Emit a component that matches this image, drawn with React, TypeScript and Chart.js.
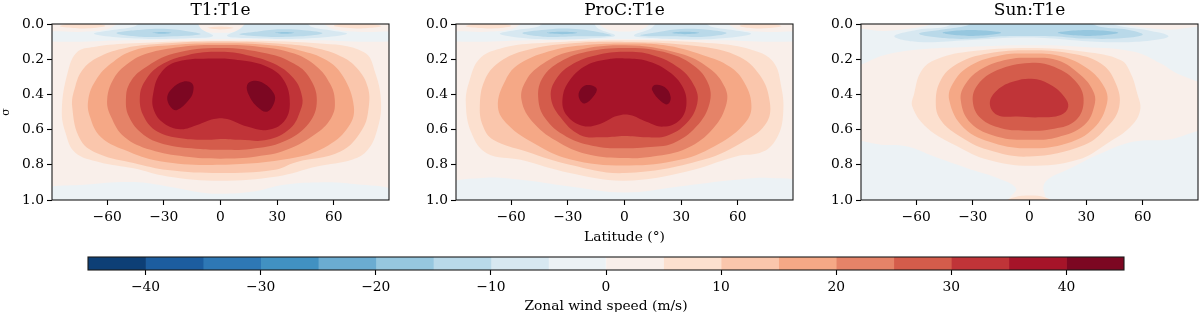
import React, { useEffect, useRef } from "react";
import { Chart, registerables } from "chart.js";

Chart.register(...registerables);

type Pt = [number, number];

// Contour levels (m/s) and the RdBu_r colour of each band [level, level + 5)
const levels = [-45, -40, -35, -30, -25, -20, -15, -10, -5, 0, 5, 10, 15, 20, 25, 30, 35, 40, 45];
const bandColors = ["#0d3f76", "#1c5d9f", "#2e78b5", "#4191c2", "#6bacd1", "#96c7df", "#b9d9e9", "#d7e8f1", "#ecf2f5", "#f9efea", "#fce0cf", "#fac6ac", "#f5a886", "#e58368", "#d45c4b", "#c03438", "#a61429", "#7c0722"];
const latTicks = [-60, -30, 0, 30, 60];
const sigmaTicks = [0, 0.2, 0.4, 0.6, 0.8, 1];
const cbarTicks = [-40, -30, -20, -10, 0, 10, 20, 30, 40];
const titles = ["T1:T1e", "ProC:T1e", "Sun:T1e"];

const fullDomain: Pt[] = [[-130, -0.4], [130, -0.4], [130, 1.4], [-130, 1.4]];

// ---- T1:T1e contours, [latitude, sigma] ----
const t1Top0: Pt[] = [[-95, 0.05], [-75, 0.045], [-60, 0.03], [-50, -0.02], [50, -0.02], [60, 0.03], [75, 0.045], [95, 0.05], [95, 0.095], [50, 0.092], [0, 0.085], [-50, 0.092], [-95, 0.095]];
const t1Bottom0: Pt[] = [[-95, 0.945], [-72, 0.913], [-46, 0.898], [-28, 0.923], [-10.6, 0.957], [0, 0.964], [17.6, 0.951], [33.5, 0.913], [51, 0.9], [69, 0.908], [95, 0.955], [95, 1.05], [-95, 1.05]];
const t1Center: Pt[] = [[-15, -0.02], [-12, 0.025], [-6, 0.047], [0, 0.05], [6, 0.047], [12, 0.025], [15, -0.02]];
const t1CenterLens: Pt[] = [[-7, 0.022], [0, 0.014], [7, 0.022], [0, 0.031]];
const t1CornerL: Pt[] = [[-85, 0.012], [-73, -0.01], [-61, 0.01], [-70, 0.024], [-78, 0.023]];
const t1CornerR: Pt[] = [[60, 0.01], [72, -0.01], [85, 0.012], [78, 0.023], [70, 0.024]];
const t1M5L: Pt[] = [[-67, 0.055], [-58, 0.035], [-46, 0.015], [-40, -0.02], [-14, -0.02], [-10, 0.03], [-4, 0.068], [-15, 0.08], [-35, 0.085], [-55, 0.075]];
const t1M5R: Pt[] = [[67, 0.055], [58, 0.035], [48, 0.015], [44, -0.02], [16, -0.02], [10, 0.03], [3.5, 0.068], [15, 0.08], [35, 0.085], [55, 0.075]];
const t1M10L: Pt[] = [[-55, 0.052], [-42, 0.033], [-28, 0.028], [-15, 0.045], [-10.6, 0.058], [-25, 0.07], [-42, 0.072]];
const t1M10R: Pt[] = [[10, 0.058], [20, 0.042], [32, 0.03], [44, 0.035], [54, 0.052], [42, 0.07], [25, 0.072]];
const t1M15L: Pt[] = [[-36, 0.05], [-31, 0.045], [-26, 0.05], [-31, 0.056]];
const t1M15R: Pt[] = [[29, 0.05], [34, 0.045], [39, 0.05], [34, 0.056]];
const t1P5: Pt[] = [[-84, 0.49], [-81, 0.28], [-76, 0.16], [-67, 0.13], [-46, 0.11], [0, 0.095], [51, 0.11], [76, 0.16], [82, 0.28], [85, 0.45], [83, 0.6], [78, 0.715], [70, 0.77], [51, 0.81], [30, 0.866], [0, 0.89], [-28, 0.866], [-46, 0.82], [-64, 0.785], [-77, 0.73], [-82, 0.62]];
const t1P10: Pt[] = [[-78.5, 0.47], [-77, 0.36], [-73, 0.26], [-65, 0.19], [-52, 0.14], [-35, 0.115], [0, 0.1], [35, 0.115], [52, 0.14], [65, 0.19], [73, 0.26], [78, 0.36], [78.5, 0.47], [75, 0.6], [63.5, 0.725], [40, 0.785], [28, 0.83], [0, 0.847], [-28, 0.83], [-46, 0.79], [-64, 0.74], [-74, 0.66]];
const t1P15: Pt[] = [[-70, 0.43], [-69, 0.53], [-63.5, 0.64], [-51, 0.715], [-32, 0.78], [0, 0.8], [39, 0.76], [57, 0.69], [68, 0.58], [70.6, 0.47], [65, 0.3], [56, 0.205], [42, 0.15], [25, 0.12], [0, 0.11], [-25, 0.12], [-46, 0.15], [-58, 0.225], [-66, 0.32]];
const t1P20: Pt[] = [[-60, 0.43], [-58, 0.525], [-51, 0.64], [-37, 0.715], [-19, 0.753], [0, 0.765], [19, 0.753], [35, 0.715], [51, 0.62], [59, 0.525], [60.5, 0.43], [58, 0.34], [51, 0.243], [39, 0.168], [21, 0.13], [0, 0.12], [-21, 0.13], [-39, 0.168], [-49, 0.225], [-56.5, 0.31]];
const t1P25: Pt[] = [[-50, 0.413], [-48.5, 0.526], [-40.6, 0.63], [-28, 0.687], [-10.6, 0.71], [0, 0.715], [16, 0.71], [33.5, 0.668], [46.8, 0.564], [51, 0.432], [46.8, 0.3], [38.8, 0.225], [24.7, 0.168], [0, 0.136], [-24.7, 0.168], [-40.6, 0.253], [-47.6, 0.328]];
const t1P30: Pt[] = [[-42.7, 0.413], [-40.6, 0.526], [-33.5, 0.611], [-21, 0.649], [-7, 0.658], [0, 0.653], [10.6, 0.658], [24.7, 0.658], [37, 0.592], [42.4, 0.489], [43.2, 0.413], [38.8, 0.31], [28.2, 0.225], [14, 0.177], [0, 0.158], [-17.6, 0.177], [-31.8, 0.234], [-39.7, 0.319]];
const t1P35: Pt[] = [[-3.5, 0.196], [-23, 0.215], [-31.8, 0.281], [-35.6, 0.394], [-35.3, 0.489], [-30, 0.564], [-21.2, 0.598], [-12.4, 0.574], [-3.5, 0.54], [3.5, 0.54], [14.1, 0.583], [24.7, 0.602], [33.5, 0.555], [36.7, 0.451], [33.5, 0.319], [24.7, 0.243], [10.6, 0.206]];
const t1P40L: Pt[] = [[-19.8, 0.328], [-15, 0.338], [-14.5, 0.385], [-16.8, 0.432], [-23, 0.489], [-26.5, 0.47], [-28.2, 0.415], [-25.6, 0.366]];
const t1P40R: Pt[] = [[17.6, 0.323], [23, 0.338], [28.2, 0.394], [28.6, 0.442], [24.7, 0.498], [19.4, 0.47], [15, 0.404], [14.1, 0.347]];

// ---- ProC:T1e contours ----
const prTop0: Pt[] = [[-95, 0.05], [-75, 0.045], [-60, 0.03], [-50, -0.02], [50, -0.02], [60, 0.03], [75, 0.045], [95, 0.05], [95, 0.095], [50, 0.092], [0, 0.085], [-50, 0.092], [-95, 0.095]];
const prBottom0: Pt[] = [[-95, 0.92], [-75, 0.875], [-55, 0.885], [-29, 0.923], [0, 0.957], [29, 0.923], [59, 0.885], [77, 0.875], [95, 0.91], [95, 1.05], [-95, 1.05]];
const prCenter: Pt[] = [[-14, -0.02], [-11, 0.022], [-5, 0.04], [0, 0.043], [5, 0.04], [11, 0.022], [14, -0.02]];
const prCornerL: Pt[] = [[-84, 0.012], [-72, -0.01], [-60, 0.01], [-68, 0.024], [-77, 0.023]];
const prCornerR: Pt[] = [[61, 0.01], [72, -0.01], [83, 0.012], [76, 0.023], [68, 0.024]];
const prM5L: Pt[] = [[-66, 0.055], [-58, 0.035], [-46, 0.015], [-40, -0.02], [-18, -0.02], [-14, 0.025], [-5, 0.065], [-15, 0.08], [-35, 0.088], [-55, 0.078]];
const prM5R: Pt[] = [[67, 0.055], [58, 0.035], [46, 0.015], [40, -0.02], [19, -0.02], [14, 0.025], [5, 0.065], [15, 0.08], [35, 0.088], [55, 0.078]];
const prM10L: Pt[] = [[-54, 0.052], [-42, 0.033], [-28, 0.027], [-14, 0.045], [-7, 0.065], [-25, 0.07], [-42, 0.072]];
const prM10R: Pt[] = [[8.5, 0.065], [18, 0.045], [30, 0.028], [44, 0.033], [54, 0.052], [42, 0.072], [25, 0.07]];
const prM15L: Pt[] = [[-41, 0.05], [-33, 0.044], [-25, 0.05], [-33, 0.058]];
const prM15R: Pt[] = [[25, 0.05], [32, 0.044], [39.5, 0.05], [32, 0.058]];
const prP5: Pt[] = [[-84, 0.45], [-82, 0.319], [-76.6, 0.196], [-66, 0.14], [-46.6, 0.11], [0, 0.092], [47, 0.11], [68, 0.149], [78.7, 0.215], [83, 0.357], [84, 0.508], [81, 0.64], [73.4, 0.725], [59, 0.753], [33, 0.838], [0, 0.89], [-29, 0.847], [-55, 0.772], [-73, 0.734], [-81, 0.62]];
const prP10: Pt[] = [[-76.6, 0.47], [-74, 0.319], [-66, 0.215], [-52, 0.149], [-29, 0.111], [0, 0.102], [33, 0.12], [59, 0.177], [71.6, 0.29], [77, 0.45], [75, 0.564], [64.6, 0.658], [41.6, 0.772], [0, 0.847], [-29, 0.8], [-52, 0.725], [-69.5, 0.658], [-74.8, 0.583]];
const prP15: Pt[] = [[-67, 0.47], [-63, 0.319], [-55.4, 0.225], [-37.8, 0.149], [-20, 0.12], [0, 0.111], [20.5, 0.12], [41.6, 0.177], [55.8, 0.243], [63.7, 0.338], [67.2, 0.47], [63.7, 0.564], [50.5, 0.677], [29.3, 0.772], [0, 0.804], [-29, 0.768], [-48, 0.677], [-61.6, 0.574]];
const prP20: Pt[] = [[-54.5, 0.432], [-52, 0.319], [-43, 0.225], [-29, 0.158], [0, 0.121], [29.3, 0.168], [45, 0.253], [53, 0.357], [54, 0.451], [47, 0.592], [33, 0.706], [15, 0.753], [0, 0.762], [-18.4, 0.743], [-34, 0.677], [-48, 0.564]];
const prP25: Pt[] = [[-45.7, 0.413], [-43, 0.3], [-34, 0.215], [-20, 0.158], [0, 0.136], [20.5, 0.158], [36.4, 0.234], [44.3, 0.338], [45, 0.451], [38, 0.583], [25.8, 0.677], [11.6, 0.7], [0, 0.706], [-14.8, 0.696], [-30.7, 0.64], [-42, 0.536]];
const prP30: Pt[] = [[-39, 0.413], [-36, 0.31], [-27, 0.225], [-14.8, 0.177], [0, 0.158], [15, 0.177], [29.3, 0.253], [37.2, 0.357], [38.5, 0.451], [32.8, 0.564], [22.2, 0.636], [11.6, 0.643], [0, 0.636], [-11.3, 0.643], [-23.6, 0.63], [-34.2, 0.526]];
const prP35: Pt[] = [[-8.6, 0.2], [-20, 0.234], [-29, 0.319], [-32.8, 0.423], [-30.7, 0.517], [-21.9, 0.579], [-13, 0.568], [-4.2, 0.523], [2.8, 0.517], [11.6, 0.555], [20.5, 0.583], [29.3, 0.545], [32.8, 0.451], [30.2, 0.347], [22.2, 0.262], [11.6, 0.209], [1, 0.196]];
const prP40L: Pt[] = [[-20, 0.347], [-14.8, 0.366], [-16.6, 0.413], [-21, 0.451], [-23.6, 0.432], [-24, 0.385]];
const prP40R: Pt[] = [[16, 0.347], [21.4, 0.36], [24.4, 0.413], [23, 0.455], [19.6, 0.442], [14.6, 0.375]];

// ---- Sun:T1e contours ----
const suTop0: Pt[] = [[-95, 0.045], [-77, 0.04], [-59, 0.02], [-42, -0.02], [40, -0.02], [55, 0.013], [73, 0.032], [95, 0.04], [95, 0.32], [80, 0.29], [69.5, 0.225], [55.4, 0.158], [29, 0.13], [0, 0.121], [-33, 0.13], [-59, 0.145], [-77, 0.177], [-95, 0.235]];
const suBottomL: Pt[] = [[-95, 0.687], [-77, 0.687], [-64.6, 0.696], [-50.5, 0.753], [-33, 0.819], [-17, 0.875], [-7.2, 0.932], [-10, 0.98], [-15, 1.03], [-95, 1.05]];
const suBottomR: Pt[] = [[13, 1.03], [7.4, 0.942], [9.5, 0.885], [20, 0.828], [38, 0.734], [55.4, 0.668], [73, 0.658], [95, 0.625], [95, 1.05]];
const suBottomLens: Pt[] = [[-15, 1.02], [-8, 0.985], [0, 0.975], [8, 0.985], [13, 1.02]];
const suM5: Pt[] = [[-71.6, 0.07], [-59, 0.032], [-45, 0.017], [-36, -0.02], [38, -0.02], [48, 0.013], [62.5, 0.036], [73.6, 0.07], [62.5, 0.096], [38, 0.102], [0, 0.077], [-33, 0.092], [-59, 0.102]];
const suM10: Pt[] = [[-58.4, 0.055], [-45, 0.03], [-33, 0.008], [-27.5, -0.02], [27, -0.02], [38, 0.017], [52, 0.032], [60, 0.06], [50, 0.08], [29, 0.083], [13, 0.07], [0, 0.068], [-15, 0.07], [-29, 0.083], [-45, 0.08]];
const suM15L: Pt[] = [[-46, 0.05], [-31, 0.034], [-15, 0.05], [-31, 0.068]];
const suM15R: Pt[] = [[15, 0.05], [31, 0.034], [47, 0.05], [31, 0.068]];
const suP5: Pt[] = [[-62, 0.47], [-61, 0.394], [-57.5, 0.272], [-50.5, 0.206], [-33, 0.158], [0, 0.136], [29, 0.158], [48.4, 0.206], [53.6, 0.281], [57, 0.394], [58.6, 0.489], [53.6, 0.583], [41.3, 0.677], [25.4, 0.772], [0, 0.806], [-22, 0.772], [-38, 0.696], [-54, 0.592]];
const suP10: Pt[] = [[-49.6, 0.451], [-47, 0.319], [-38, 0.225], [-22, 0.168], [0, 0.149], [22, 0.168], [37.8, 0.225], [45.7, 0.338], [47.5, 0.47], [41.3, 0.583], [29, 0.687], [0, 0.753], [-22, 0.715], [-38, 0.63], [-47, 0.545]];
const suP15: Pt[] = [[-42.5, 0.432], [-40, 0.328], [-31, 0.234], [-15, 0.177], [0, 0.168], [16.6, 0.183], [30.7, 0.253], [39.5, 0.357], [41, 0.451], [34, 0.592], [20, 0.677], [0, 0.706], [-18.7, 0.677], [-34.6, 0.592]];
const suP20: Pt[] = [[-36.4, 0.432], [-33.7, 0.338], [-25, 0.253], [-11.6, 0.202], [0, 0.192], [14.8, 0.206], [27, 0.29], [33.4, 0.375], [34.6, 0.451], [29, 0.574], [14.8, 0.643], [0, 0.658], [-17, 0.64], [-31, 0.564]];
const suP25: Pt[] = [[-30, 0.442], [-27.5, 0.347], [-17, 0.262], [0, 0.221], [13, 0.243], [25.4, 0.338], [28.6, 0.451], [23.6, 0.555], [11.3, 0.598], [0, 0.606], [-15, 0.592], [-25.8, 0.536]];
const suP30: Pt[] = [[-21, 0.451], [-17, 0.375], [-8, 0.325], [2.5, 0.313], [11.3, 0.347], [18.4, 0.413], [20.5, 0.47], [16.6, 0.517], [6, 0.53], [-6.4, 0.526], [-17, 0.517]];

// Paint order is bottom to top; each layer is [band lower level, contour]
const layersT1: [number, Pt[]][] = [[0, fullDomain], [-5, t1Top0], [-5, t1Bottom0], [0, t1Center], [5, t1CenterLens], [5, t1CornerL], [5, t1CornerR], [-10, t1M5L], [-10, t1M5R], [-15, t1M10L], [-15, t1M10R], [-20, t1M15L], [-20, t1M15R], [5, t1P5], [10, t1P10], [15, t1P15], [20, t1P20], [25, t1P25], [30, t1P30], [35, t1P35], [40, t1P40L], [40, t1P40R]];
const layersPr: [number, Pt[]][] = [[0, fullDomain], [-5, prTop0], [-5, prBottom0], [-10, prM5L], [-10, prM5R], [0, prCenter], [5, prCornerL], [5, prCornerR], [-15, prM10L], [-15, prM10R], [-20, prM15L], [-20, prM15R], [5, prP5], [10, prP10], [15, prP15], [20, prP20], [25, prP25], [30, prP30], [35, prP35], [40, prP40L], [40, prP40R]];
const layersSu: [number, Pt[]][] = [[0, fullDomain], [-5, suTop0], [-5, suBottomL], [-5, suBottomR], [5, suBottomLens], [-10, suM5], [-15, suM10], [-20, suM15L], [-20, suM15R], [5, suP5], [10, suP10], [15, suP15], [20, suP20], [25, suP25], [30, suP30]];
const panelLayers = [layersT1, layersPr, layersSu];

const FONT = "'DejaVu Serif'";
const bandColor = (lo: number) => bandColors[levels.indexOf(lo)];
const fmtMinus = (v: number) => String(v).replace("-", "\u2212");

const frame = {
  id: "frame",
  afterDraw(chart: any) {
    const { ctx, chartArea: a } = chart;
    ctx.save();
    ctx.strokeStyle = "#1a1a1a";
    ctx.lineWidth = 1.1;
    ctx.strokeRect(a.left, a.top, a.right - a.left, a.bottom - a.top);
    ctx.restore();
  },
};

// Close a contour so that the spline stays smooth across its start point
const ring = (pts: Pt[]) => {
  const closed = [pts[pts.length - 1], ...pts, pts[0], pts[1]];
  return closed.map(([x, y]) => ({ x, y }));
};

const tickSet = (values: number[]) => (axis: any) => {
  axis.ticks = values.map((value) => ({ value }));
};

type Box = { left: number; top: number; width: number; height: number };

const panelBoxes: (Box & { axisWidth: number })[] = [
  { left: 0, top: 0, width: 410, height: 250, axisWidth: 52 },
  { left: 420, top: 0, width: 390, height: 250, axisWidth: 36 },
  { left: 820, top: 0, width: 380, height: 250, axisWidth: 41 },
];
const cbarBox: Box = { left: 60, top: 250, width: 1100, height: 70 };

function makePanel(canvas: HTMLCanvasElement, i: number) {
  const box = panelBoxes[i];
  return new Chart(canvas, {
    type: "scatter",
    data: {
      datasets: panelLayers[i].map(([lo, pts], k) => ({
        data: ring(pts),
        showLine: true,
        fill: "shape",
        backgroundColor: bandColor(lo),
        borderColor: bandColor(lo),
        borderWidth: 0,
        pointRadius: 0,
        pointHoverRadius: 0,
        tension: pts === fullDomain ? 0 : 0.4,
        capBezierPoints: false,
        order: -k,
      })),
    } as any,
    plugins: [frame],
    options: {
      responsive: false,
      animation: false,
      events: [],
      layout: { padding: { left: 0, top: 0, right: box.width - box.axisWidth - 337, bottom: 0 } },
      plugins: {
        legend: { display: false },
        tooltip: { enabled: false },
        title: {
          display: true,
          fullSize: false,
          text: titles[i],
          color: "#000",
          font: { family: FONT, size: 17, weight: "normal" },
          padding: { top: 0, bottom: 3.6 },
        },
      },
      scales: {
        x: {
          type: "linear",
          min: -89.2,
          max: 89.2,
          afterBuildTicks: tickSet(latTicks),
          afterFit: (s: any) => { s.height = 50; },
          grid: { drawOnChartArea: false, drawTicks: true, tickLength: 5, tickColor: "#000", tickWidth: 1.1 },
          border: { display: false },
          ticks: { autoSkip: false, maxRotation: 0, padding: 4, color: "#000", font: { family: FONT, size: 13.8 }, callback: (v: any) => fmtMinus(v) },
          title: {
            display: i === 1,
            text: "Latitude (\u00b0)",
            color: "#000",
            font: { family: FONT, size: 13.8 },
            padding: { top: 0, bottom: 4.5 },
          },
        },
        y: {
          type: "linear",
          reverse: true,
          min: 0,
          max: 1,
          afterBuildTicks: tickSet(sigmaTicks),
          afterFit: (s: any) => { s.width = box.axisWidth; },
          grid: { drawOnChartArea: false, drawTicks: true, tickLength: 5, tickColor: "#000", tickWidth: 1.1 },
          border: { display: false },
          ticks: { autoSkip: false, padding: 3, color: "#000", font: { family: FONT, size: 13.8 }, callback: (v: any) => Number(v).toFixed(1) },
          title: {
            display: i === 0,
            text: "\u03c3",
            color: "#000",
            font: { family: FONT, size: 11 },
            padding: { top: 0, bottom: 0 },
          },
        },
      },
    } as any,
  });
}

function makeColorbar(canvas: HTMLCanvasElement) {
  return new Chart(canvas, {
    type: "bar",
    data: {
      labels: [""],
      datasets: bandColors.map((color, k) => ({
        data: [[levels[k], levels[k + 1]]],
        backgroundColor: color,
        borderWidth: 0,
        barPercentage: 1,
        categoryPercentage: 1,
        grouped: false,
      })),
    } as any,
    plugins: [frame],
    options: {
      indexAxis: "y",
      responsive: false,
      animation: false,
      events: [],
      layout: { padding: { left: 28, right: 36, top: 7, bottom: 0 } },
      plugins: { legend: { display: false }, tooltip: { enabled: false }, title: { display: false } },
      scales: {
        x: {
          type: "linear",
          min: levels[0],
          max: levels[levels.length - 1],
          afterBuildTicks: tickSet(cbarTicks),
          afterFit: (s: any) => { s.height = 50; },
          grid: { drawOnChartArea: false, drawTicks: true, tickLength: 5, tickColor: "#000", tickWidth: 1.1 },
          border: { display: false },
          ticks: { autoSkip: false, maxRotation: 0, padding: 4, color: "#000", font: { family: FONT, size: 13.8 }, callback: (v: any) => fmtMinus(v) },
          title: {
            display: true,
            text: "Zonal wind speed (m/s)",
            color: "#000",
            font: { family: FONT, size: 13.8 },
            padding: { top: 0, bottom: 5 },
          },
        },
        y: { display: false },
      },
    } as any,
  });
}

export default function App() {
  const panelRefs = [useRef<HTMLCanvasElement>(null), useRef<HTMLCanvasElement>(null), useRef<HTMLCanvasElement>(null)];
  const cbarRef = useRef<HTMLCanvasElement>(null);

  useEffect(() => {
    const charts = panelRefs.map((r, i) => makePanel(r.current as HTMLCanvasElement, i));
    charts.push(makeColorbar(cbarRef.current as HTMLCanvasElement) as any);
    return () => charts.forEach((c) => c.destroy());
  }, []);

  const place = (b: Box): React.CSSProperties => ({ position: "absolute", left: b.left, top: b.top, width: b.width, height: b.height, filter: "blur(0.4px)" });

  return (
    <div style={{ position: "fixed", left: 0, top: 0, width: 1200, height: 312, overflow: "hidden", background: "#fff" }}>
      {panelBoxes.map((b, i) => (
        <canvas key={i} ref={panelRefs[i]} width={b.width} height={b.height} style={place(b)} />
      ))}
      <canvas ref={cbarRef} width={cbarBox.width} height={cbarBox.height} style={place(cbarBox)} />
    </div>
  );
}
